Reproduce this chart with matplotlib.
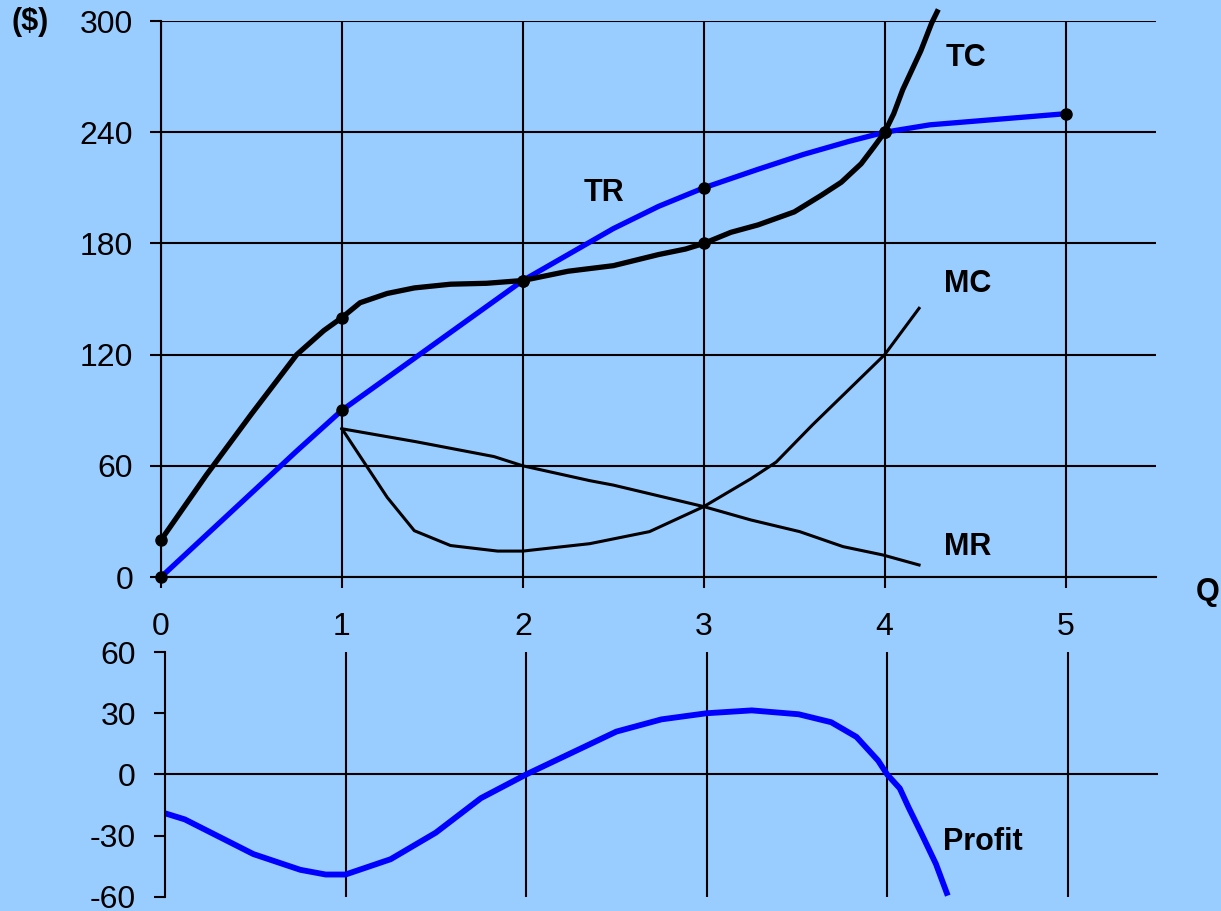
import numpy as np
import matplotlib.pyplot as plt

plt.rcParams['font.family'] = ['Liberation Sans', 'DejaVu Sans']
plt.rcParams['axes.unicode_minus'] = False

# total cost curve
tc_q = [0, 0.25, 0.5, 0.75, 0.9, 1.0, 1.1, 1.25, 1.4, 1.6, 1.8, 2.0, 2.25, 2.5, 2.75, 2.9,
        3.0, 3.15, 3.3, 3.5, 3.65, 3.76, 3.87, 3.94, 4.0, 4.05, 4.1, 4.2, 4.26, 4.29]
tc = [20, 55, 88, 120, 133, 140, 148, 153, 156, 158, 158.5, 160, 165, 168, 174, 177,
      180, 186, 190, 197, 206, 213, 223, 232, 240, 250, 263, 284, 299, 305]

# total revenue curve
tr_q = [0, 0.75, 1.0, 1.5, 2.0, 2.5, 2.75, 3.0, 3.3, 3.55, 3.8, 4.0, 4.25, 5.0]
tr = [0, 68, 90, 125, 160, 188, 200, 210, 220, 228, 235, 240, 244, 250]

# marginal cost
mc_q = [1.0, 1.25, 1.4, 1.6, 1.86, 2.0, 2.37, 2.7, 3.0, 3.26, 3.4, 3.6, 3.8, 4.0, 4.19]
mc = [80, 43, 25, 17, 14, 14, 18, 24.5, 38, 53, 62, 82, 101, 120, 145]

# marginal revenue
mr_q = [1.0, 1.41, 1.84, 2.0, 2.37, 2.5, 3.0, 3.26, 3.53, 3.77, 3.99, 4.19]
mr = [80, 73, 65, 60, 52, 49.6, 38, 30.8, 24.5, 16.4, 11.9, 6.5]

# profit = TR - TC
pr_q = [0, 0.11, 0.49, 0.75, 0.89, 1.0, 1.25, 1.5, 1.75, 2.0, 2.5, 2.75, 3.0, 3.25,
        3.51, 3.69, 3.83, 3.95, 4.0, 4.07, 4.12, 4.19, 4.27, 4.33]
profit = [-19, -22, -39, -46.7, -49, -49, -41.5, -28.5, -11.6, 0, 21, 27, 30, 31.4,
          29.5, 25.6, 18.4, 6.8, 0, -6.8, -16.4, -29, -43.8, -58]

# highlighted points
tc_dot_q = [0, 1, 2, 3, 4]
tc_dot = [20, 140, 160, 180, 240]
tr_dot_q = [0, 1, 2, 3, 4, 5]
tr_dot = [0, 90, 160, 210, 240, 250]

bg = '#99CCFF'
fig = plt.figure(figsize=(12.21, 9.11), dpi=100, facecolor=bg)

# top panel
ax = fig.add_axes([0.1319, 0.3666, 0.8149, 0.6103], facecolor=bg)
ax.set_xlim(0, 5.5)
ax.set_ylim(0, 300)
ax.set_xticks([0, 1, 2, 3, 4, 5])
ax.set_yticks([0, 60, 120, 180, 240, 300])
ax.grid(True, color='black', linewidth=1.5)
ax.set_axisbelow(True)
for s in ['top', 'right']:
    ax.spines[s].set_visible(False)
for s in ['left', 'bottom']:
    ax.spines[s].set_linewidth(1.5)
ax.tick_params(axis='x', length=8, width=1.5, pad=17, labelsize=23)
ax.tick_params(axis='y', length=8, width=1.5, pad=12, labelsize=23)

ax.plot(mc_q, mc, color='black', linewidth=2.2)
ax.plot(mr_q, mr, color='black', linewidth=2.2)
ax.plot(tr_q, tr, color='#0000FF', linewidth=3.8, clip_on=False)
ax.plot(tc_q, tc, color='black', linewidth=3.8, clip_on=False)
ax.plot(tc_dot_q, tc_dot, 'o', color='black', markersize=8, clip_on=False, zorder=5)
ax.plot(tr_dot_q, tr_dot, 'o', color='black', markersize=8, clip_on=False, zorder=5)

bold = dict(fontsize=22, fontweight='bold', va='center', ha='center')
ax.text(4.45, 280, 'TC', **bold)
ax.text(2.45, 207, 'TR', **bold)
ax.text(4.46, 158, 'MC', **bold)
ax.text(4.46, 16, 'MR', **bold)

fig.text(0.989, 0.350, 'Q', **bold)
fig.text(0.0246, 0.976, '($)', **bold)

# bottom panel
ax2 = fig.add_axes([0.1351, 0.0154, 0.8133, 0.2689], facecolor=bg)
ax2.set_xlim(0, 5.5)
ax2.set_ylim(-60, 60)
ax2.set_xticks([1, 2, 3, 4, 5])
ax2.set_yticks([-60, -30, 0, 30, 60])
ax2.grid(True, axis='x', color='black', linewidth=1.5)
ax2.axhline(0, color='black', linewidth=1.5)
for s in ['top', 'right', 'bottom']:
    ax2.spines[s].set_visible(False)
ax2.spines['left'].set_linewidth(1.5)
ax2.tick_params(axis='x', length=0, labelbottom=False)
ax2.tick_params(axis='y', length=8, width=1.5, pad=13, labelsize=23)

ax2.plot(pr_q, profit, color='#0000FF', linewidth=4.2)
ax2.text(4.53, -33, 'Profit', **bold)

fig.savefig('out.png', dpi=100, facecolor=bg)
